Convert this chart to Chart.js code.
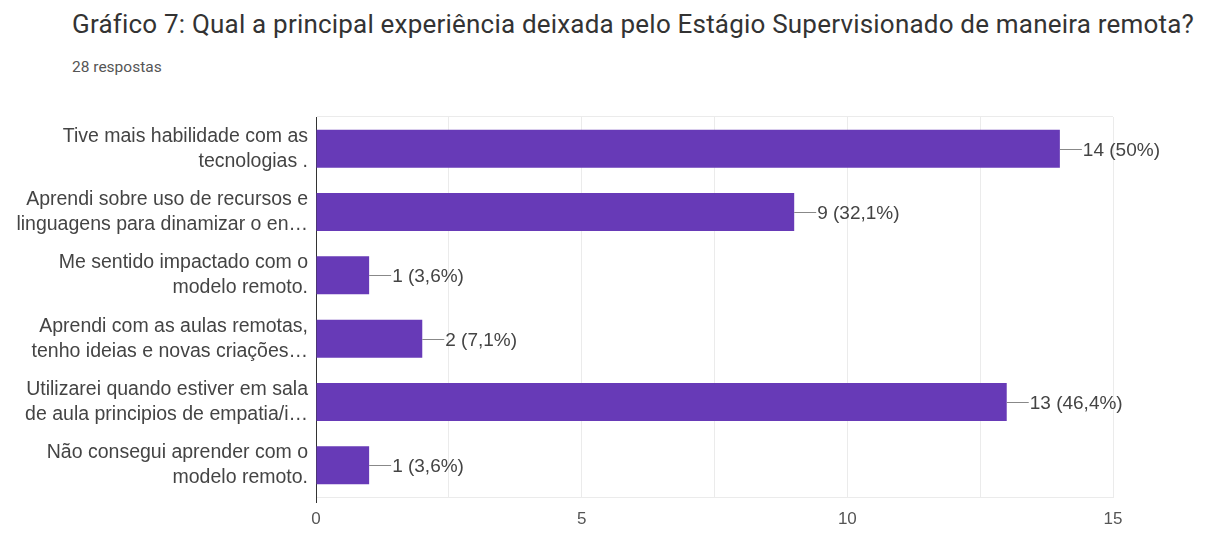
<!DOCTYPE html>
<html>
<head>
<meta charset="utf-8">
<script src="https://cdn.jsdelivr.net/npm/chart.js@4/dist/chart.umd.min.js"></script>
<style>
  html, body { margin: 0; padding: 0; background: #fff; }
  body { width: 1205px; height: 533px; position: relative; overflow: hidden; }
  #title {
    position: absolute; left: 72px; top: 9px;
    font: 26px Roboto, sans-serif; letter-spacing: 0.2px; color: #333; white-space: nowrap;
  }
  #subtitle {
    position: absolute; left: 72px; top: 58px;
    font: 15.5px Roboto, sans-serif; color: #555;
  }
  #wrap { position: absolute; left: 0; top: 100px; width: 1205px; height: 433px; }
</style>
</head>
<body>
<div id="title">Gráfico 7: Qual a principal experiência deixada pelo Estágio Supervisionado de maneira remota?</div>
<div id="subtitle">28 respostas</div>
<div id="wrap"><canvas id="chart"></canvas></div>
<script>
// answers (two-line labels, as shown on the axis)
var categories = [
    ["Tive mais habilidade com as", "tecnologias ."],
    ["Aprendi sobre uso de recursos e", "linguagens para dinamizar o en…"],
    ["Me sentido impactado com o", "modelo remoto."],
    ["Aprendi com as aulas remotas,", "tenho ideias e novas criações…"],
    ["Utilizarei quando estiver em sala", "de aula principios de empatia/i…"],
    ["Não consegui aprender com o", "modelo remoto."]
];
var counts = [14, 9, 1, 2, 13, 1];
var totalResponses = 28;
var xTicks = [0, 5, 10, 15];

var purple = "#673ab7";
var gridGrey = "#ebebeb";
var textGrey = "#444";
var labelFont = "'Liberation Sans', Arial, sans-serif";

function pctLabel(v) {
    var p = Math.round(v / totalResponses * 1000) / 10;
    return v + " (" + String(p).replace(".", ",") + "%)";
}

// value labels with a short leader line after each bar
var valueLabels = {
    id: "valueLabels",
    afterDatasetsDraw: function (chart) {
        var ctx = chart.ctx;
        var meta = chart.getDatasetMeta(0);
        ctx.save();
        ctx.font = "19px " + labelFont;
        ctx.textBaseline = "middle";
        ctx.fillStyle = textGrey;
        ctx.strokeStyle = "#888";
        ctx.lineWidth = 1;
        meta.data.forEach(function (bar, i) {
            var x = bar.x, y = Math.round(bar.y) + 0.5;
            ctx.beginPath();
            ctx.moveTo(x, y);
            ctx.lineTo(x + 22, y);
            ctx.stroke();
            ctx.fillText(pctLabel(counts[i]), x + 23, y + 1);
        });
        ctx.restore();
    }
};

var n = categories.length;

new Chart(document.getElementById("chart"), {
    type: "bar",
    data: {
        labels: categories,
        datasets: [{
            data: counts,
            backgroundColor: purple,
            borderWidth: 0,
            barPercentage: 0.6,
            categoryPercentage: 1
        }]
    },
    options: {
        indexAxis: "y",
        responsive: true,
        maintainAspectRatio: false,
        animation: false,
        layout: { padding: { top: 17, right: 92, left: 0, bottom: 0 } },
        plugins: {
            legend: { display: false },
            tooltip: { enabled: false }
        },
        scales: {
            x: {
                min: 0,
                max: 15,
                afterFit: function (scale) { scale.height = 36; },
                ticks: {
                    stepSize: 2.5,
                    maxRotation: 0,
                    padding: 6,
                    color: "#555",
                    font: { family: labelFont, size: 17 },
                    callback: function (v) { return xTicks.indexOf(v) >= 0 ? v : ""; }
                },
                grid: {
                    color: gridGrey,
                    tickLength: 6,
                    tickColor: function (c) { return c.index === 0 ? "#333" : "transparent"; }
                },
                border: { color: gridGrey }
            },
            y: {
                // fixed axis width; drop the extra room reserved for the multi-line labels
                afterFit: function (scale) {
                    scale.width = 316;
                    scale.paddingTop = 0;
                    scale.paddingBottom = 0;
                },
                ticks: {
                    padding: 8,
                    color: textGrey,
                    font: { family: labelFont, size: 19.5, lineHeight: 1.28 }
                },
                grid: {
                    drawTicks: false,
                    color: function (c) { return (c.index === 0 || c.index === n) ? gridGrey : "transparent"; }
                },
                border: { color: "#333" }
            }
        }
    },
    plugins: [valueLabels]
});
</script>
</body>
</html>
